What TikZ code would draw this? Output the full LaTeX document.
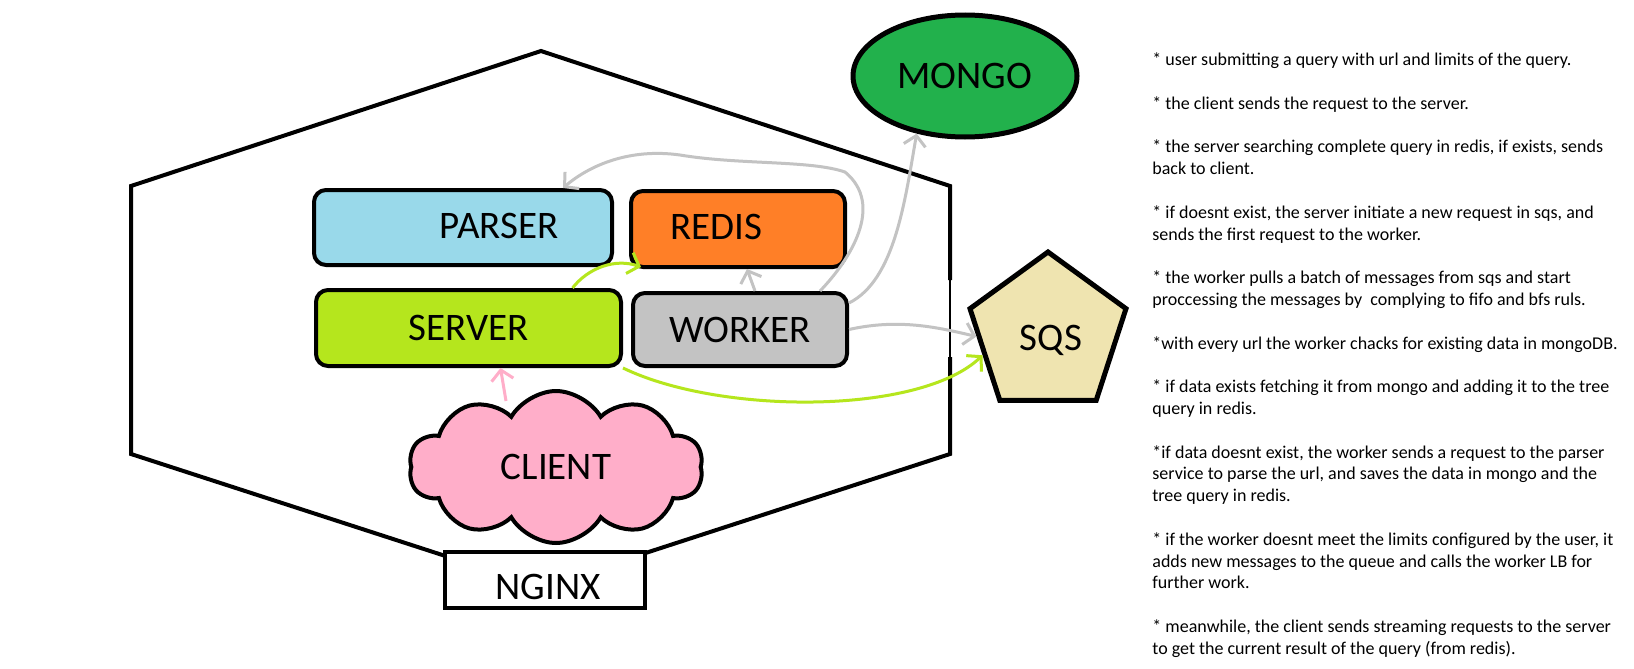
\documentclass[tikz,border=0pt]{standalone}
\usepackage{fontspec}
\setmainfont{Carlito}
\usepackage{tikz}
\usetikzlibrary{arrows.meta,shapes.geometric,shapes.symbols}
\definecolor{paintblue}{RGB}{153,217,234}
\definecolor{paintorange}{RGB}{255,127,39}
\definecolor{paintlime}{RGB}{181,230,29}
\definecolor{paintgray}{RGB}{195,195,195}
\definecolor{paintgreen}{RGB}{34,177,76}
\definecolor{paintrose}{RGB}{255,174,201}
\definecolor{painttan}{RGB}{239,228,176}
\newcommand{\biglabel}{\fontsize{19.5}{23}\selectfont}
\newcommand{\notesfont}{\fontsize{9}{10.9}\selectfont}
\tikzset{
	lbl/.style={font=\biglabel},
	svc/.style={draw,line width=2pt,rounded corners=6pt,inner sep=0pt,lbl},
	hexline/.style={line width=2pt},
	grayarrow/.style={line width=1.5pt,paintgray,-{Straight Barb[length=5pt,width=11pt]}},
	limearrow/.style={line width=1.5pt,paintlime,-{Straight Barb[length=5pt,width=11pt]}},
	rosearrow/.style={line width=1.5pt,paintrose,-{Straight Barb[length=5pt,width=11pt]}}
}

\begin{document}
\begin{tikzpicture}[x=0.5pt,y=-0.5pt]
	\fill[white] (0,0) rectangle (1634,669);
	\useasboundingbox (0,0) rectangle (1634,669);
	\draw[hexline] (950,280) -- (950,186) -- (541,51) -- (131,186) -- (131,454) -- (541,587) -- (950,454) -- (950,357);
	\draw[line width=1pt] (950,280) -- (950,357);
	\node[svc,sharp corners,fill=white,minimum width=100pt,minimum height=28pt,label={[lbl,xshift=1.5pt,yshift=-3.5pt]center:NGINX}] (nginx) at (545,580) {};
	\node[svc,fill=paintblue,minimum width=149pt,minimum height=37.5pt,label={[lbl,xshift=18pt,yshift=1pt]center:PARSER}] (parser) at (463,227.5) {};
	\node[svc,fill=paintorange,minimum width=107pt,minimum height=38pt,label={[lbl,xshift=-11pt,yshift=1pt]center:REDIS}] (redis) at (738,229) {};
	\node[svc,fill=paintlime,minimum width=152.5pt,minimum height=38pt] (server) at (468.5,328) {SERVER};
	\node[svc,fill=paintgray,minimum width=107pt,minimum height=36.5pt] (worker) at (740,329.5) {WORKER};
	\node[cloud,cloud puffs=10,cloud puff arc=120,cloud ignores aspect,draw,line width=2pt,fill=paintrose,minimum width=147pt,minimum height=76pt,inner sep=0pt,lbl] (client) at (556,467) {CLIENT};
	\node[ellipse,draw,line width=2.5pt,fill=paintgreen,minimum width=112pt,minimum height=61pt,inner sep=0pt,lbl] (mongo) at (965,76) {MONGO};
	\node[regular polygon,regular polygon sides=5,draw,line width=2.5pt,fill=painttan,minimum size=82pt,inner sep=0pt,label={[lbl,xshift=1.5pt,yshift=-3pt]center:SQS}] (sqs) at (1048,334) {};
	\draw[rosearrow] ([xshift=-25pt,yshift=-6pt]client.north) -- ([xshift=16pt]server.south);
	\draw[limearrow] ([xshift=52pt]server.north) .. controls (588,268) and (615,258) .. ([xshift=6pt,yshift=1pt]redis.south west);
	\draw[limearrow] (server.south east) .. controls (720,415) and (920,415) .. (sqs.198);
	\draw[grayarrow] (worker.east) .. controls (900,318) and (940,328) .. (sqs.182);
	\draw[grayarrow] ([xshift=7.5pt]worker.north) -- ([xshift=4.5pt]redis.south);
	\draw[grayarrow] ([yshift=-6pt]worker.north east) .. controls (895,280) and (905,200) .. (mongo.230);
	\draw[grayarrow] ([xshift=-14.5pt]worker.north east) .. controls (850,260) and (885,205) .. (845,172) .. controls (810,160) and (740,165) .. (680,155) .. controls (630,148) and (590,165) .. ([xshift=50pt]parser.north);
	\node[anchor=north west,align=left,inner sep=0pt,font=\notesfont] (notes) at (1152,52.5) {%
		* user submitting a query with url and limits of the query.\\[10.9pt]
		* the client sends the request to the server.\\[10.9pt]
		* the server searching complete query in redis, if exists, sends\\
		back to client.\\[10.9pt]
		* if doesnt exist, the server initiate a new request in sqs, and\\
		sends the first request to the worker.\\[10.9pt]
		* the worker pulls a batch of messages from sqs and start\\
		proccessing the messages by\ \ complying to fifo and bfs ruls.\\[10.9pt]
		*with every url the worker chacks for existing data in mongoDB.\\[10.9pt]
		* if data exists fetching it from mongo and adding it to the tree\\
		query in redis.\\[10.9pt]
		*if data doesnt exist, the worker sends a request to the parser\\
		service to parse the url, and saves the data in mongo and the\\
		tree query in redis.\\[10.9pt]
		* if the worker doesnt meet the limits configured by the user, it\\
		adds new messages to the queue and calls the worker LB for\\
		further work.\\[10.9pt]
		* meanwhile, the client sends streaming requests to the server\\
		to get the current result of the query (from redis).};
\end{tikzpicture}
\end{document}
